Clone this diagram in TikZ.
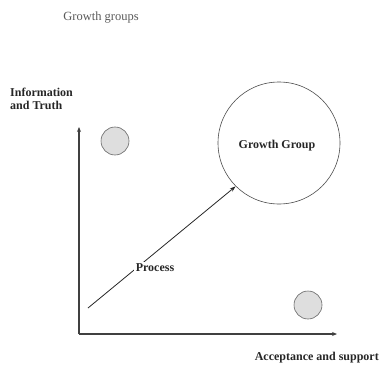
\documentclass[tikz,border=0pt]{standalone}
\usepackage{fontspec}
\setmainfont{Liberation Serif}
\usetikzlibrary{arrows.meta}
\begin{document}
\begin{tikzpicture}[x=1pt,y=-1pt,
  lbl/.style={font=\bfseries\fontsize{12}{13}\selectfont, text=black!85, inner sep=0pt},
  axis/.style={line width=1.1pt, draw=black!75, -{Stealth[length=5pt,width=4pt]}},
  dot/.style={circle, draw=black!60, line width=0.6pt, fill=black!13, minimum size=28pt, inner sep=0pt},
  arr/.style={line width=0.8pt, draw=black!85, -{Stealth[length=6pt,width=4pt]}}]
\useasboundingbox (0,0) rectangle (380,369);
\node[font=\fontsize{12.5}{14}\selectfont, text=black!65, inner sep=0pt] (title) at (101,18) {Growth groups};
\node[lbl, align=left, anchor=north west] (info) at (10,88) {Information\\and Truth};
\node[lbl, anchor=east] (acc) at (379,358) {Acceptance and support};
\coordinate (origin) at (79,334);
\coordinate (ytop) at (79,127);
\coordinate (xend) at (337,334);
\draw[axis] (origin) -- (ytop);
\draw[axis] (origin) -- (xend);
\node[dot] (d1) at (115,141) {};
\node[dot] (d2) at (308,305) {};
\node[circle, draw=black!70, line width=0.6pt, minimum size=122pt, inner sep=0pt] (gg) at (279,143) {};
\node[lbl] (ggl) at (277,146) {Growth Group};
\coordinate (pstart) at (88,308);
\draw[arr] (pstart) -- (gg.225);
\node[lbl, fill=white, inner sep=2pt] (proc) at (155,268) {Process};
\end{tikzpicture}
\end{document}
